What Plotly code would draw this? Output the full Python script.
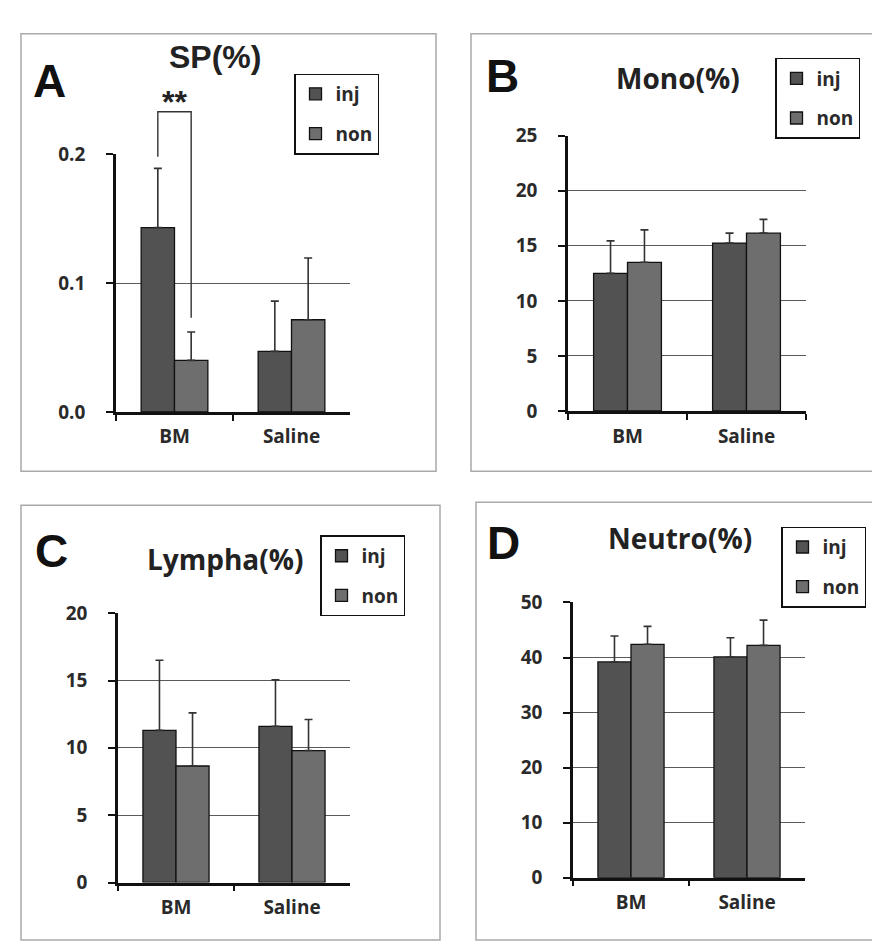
import plotly.graph_objects as go

W, H = 880, 941

categories = ["BM", "Saline"]
series_names = ["inj", "non"]

sp_inj = [0.143, 0.047]
sp_inj_err = [0.046, 0.039]
sp_non = [0.040, 0.0715]
sp_non_err = [0.022, 0.048]

mono_inj = [12.5, 15.25]
mono_inj_err = [2.95, 0.9]
mono_non = [13.5, 16.15]
mono_non_err = [2.95, 1.25]

lym_inj = [11.3, 11.6]
lym_inj_err = [5.2, 3.45]
lym_non = [8.65, 9.8]
lym_non_err = [3.95, 2.3]

neu_inj = [39.2, 40.1]
neu_inj_err = [4.7, 3.5]
neu_non = [42.4, 42.2]
neu_non_err = [3.25, 4.6]

panel_titles = ["SP(%)", "Mono(%)", "Lympha(%)", "Neutro(%)"]
panel_letters = ["A", "B", "C", "D"]
y_ticks = [[0.0, 0.1, 0.2], [0, 5, 10, 15, 20, 25], [0, 5, 10, 15, 20], [0, 10, 20, 30, 40, 50]]
y_max = [0.2, 25, 20, 50]
y_fmt = [".1f", "d", "d", "d"]

INJ_COLOR = "#525252"
NON_COLOR = "#6e6e6e"
FONT = "Open Sans"


def px(x):
    return x / W


def py(y):
    return 1 - y / H


# layout geometry (pixels)
plot_boxes = [  # x0, x1, ytop, ybottom
    (108, 342, 137, 402),
    (560, 798, 118, 401),
    (110, 342, 609, 886),
    (565, 797, 598, 881),
]
legend_pos = [(286, 54), (767, 38), (312, 529), (773, 520)]
title_pos = [(207, 37), (670, 59), (217, 553), (672, 532)]
letter_pos = [(41, 62), (494, 57), (43, 545), (496, 537)]
frames = [(13, 13, 428, 463), (463, 13, 876, 463), (13, 498, 432, 945), (468, 495, 885, 945)]

data = [
    (sp_inj, sp_inj_err, sp_non, sp_non_err),
    (mono_inj, mono_inj_err, mono_non, mono_non_err),
    (lym_inj, lym_inj_err, lym_non, lym_non_err),
    (neu_inj, neu_inj_err, neu_non, neu_non_err),
]

fig = go.Figure()
legend_keys = ["legend", "legend2", "legend3", "legend4"]

for i, (inj, inj_e, non, non_e) in enumerate(data):
    xa = "x" if i == 0 else f"x{i+1}"
    ya = "y" if i == 0 else f"y{i+1}"
    for name, vals, errs, col in [("inj", inj, inj_e, INJ_COLOR), ("non", non, non_e, NON_COLOR)]:
        fig.add_trace(go.Bar(
            x=categories, y=vals, name=name, xaxis=xa, yaxis=ya,
            legend=legend_keys[i], legendgroup=f"{name}{i}",
            marker=dict(color=col, line=dict(color="#111111", width=1.3)),
            error_y=dict(type="data", array=errs, arrayminus=[0] * len(errs), symmetric=False,
                         color="#333333", thickness=1.6, width=4),
        ))

layout = dict(
    width=W, height=H, margin=dict(l=0, r=0, t=0, b=0),
    paper_bgcolor="white", plot_bgcolor="white",
    barmode="group", bargap=0.43, bargroupgap=0,
    font=dict(family=FONT, color="#2a2a2a"),
    showlegend=True,
)

for i in range(4):
    x0, x1, yt, yb = plot_boxes[i]
    xk = "xaxis" if i == 0 else f"xaxis{i+1}"
    yk = "yaxis" if i == 0 else f"yaxis{i+1}"
    ya_name = "y" if i == 0 else f"y{i+1}"
    xa_name = "x" if i == 0 else f"x{i+1}"
    layout[xk] = dict(
        domain=[px(x0), px(x1)], anchor=ya_name,
        showline=True, linecolor="#111111", linewidth=2.6,
        ticks="outside", ticklen=6, tickwidth=2.2, tickcolor="#111111",
        tickson="boundaries", showgrid=False,
        tickfont=dict(size=19, family=FONT, weight="bold", color="#2a2a2a"),
        ticklabelstandoff=6, fixedrange=True,
    )
    layout[yk] = dict(
        domain=[py(yb), py(yt)], anchor=xa_name,
        range=[0, y_max[i]], tickvals=y_ticks[i], tickformat=y_fmt[i],
        showline=True, linecolor="#111111", linewidth=2.6,
        ticks="outside", ticklen=7, tickwidth=2.2, tickcolor="#111111",
        showgrid=True, gridcolor="#5a5a5a", gridwidth=1, zeroline=False,
        tickfont=dict(size=19, family=FONT, weight="bold", color="#2a2a2a"),
        ticklabelstandoff=17, fixedrange=True,
    )
    lx, ly = legend_pos[i]
    layout[legend_keys[i]] = dict(
        x=px(lx), y=py(ly), xanchor="left", yanchor="top",
        bgcolor="white", bordercolor="#111111", borderwidth=1.5,
        font=dict(size=19, family=FONT, weight="bold", color="#2a2a2a"),
        traceorder="grouped", tracegroupgap=12, itemwidth=30,
        entrywidth=66, entrywidthmode="pixels",
    )

fig.update_layout(**layout)

# panel frames
for (fx0, fy0, fx1, fy1) in frames:
    fig.add_shape(type="rect", xref="paper", yref="paper",
                  x0=px(fx0), x1=px(fx1), y0=py(fy1), y1=py(fy0),
                  line=dict(color="#a9a9a9", width=1.5), layer="below")

# titles and letters
for i in range(4):
    tx, ty = title_pos[i]
    size = 32 if i == 0 else 28
    fam = "Liberation Sans" if i == 0 else FONT
    fig.add_annotation(text=panel_titles[i], x=px(tx), y=py(ty), xref="paper", yref="paper",
                       xanchor="center", yanchor="middle", showarrow=False,
                       font=dict(size=size, family=fam, weight="bold", color="#222222"))
    lx, ly = letter_pos[i]
    fig.add_annotation(text=panel_letters[i], x=px(lx), y=py(ly), xref="paper", yref="paper",
                       xanchor="center", yanchor="middle", showarrow=False,
                       font=dict(size=46, family="Liberation Sans", weight="bold", color="#111111"))

# significance bracket for panel A (BM inj vs BM non)
bar_off = (1 - 0.43) / 4  # half of one bar's share of a category
cat_bm = 0
xl = (cat_bm + 0.5 - bar_off) / len(categories)
xr = (cat_bm + 0.5 + bar_off) / len(categories)
top = 0.233 / y_max[0]
left_end = 0.198 / y_max[0]
right_end = 0.073 / y_max[0]
fig.add_shape(type="path", xref="x domain", yref="y domain",
              path=f"M {xl} {left_end} L {xl} {top} L {xr} {top} L {xr} {right_end}",
              line=dict(color="#333333", width=1.4))
fig.add_annotation(text="**", xref="x domain", yref="y domain",
                   x=(cat_bm + 0.5) / len(categories), y=0.2408 / y_max[0],
                   showarrow=False, xanchor="center", yanchor="middle",
                   font=dict(size=32, family="Liberation Sans", weight="bold", color="#222222"))

fig.write_html("out.html")
